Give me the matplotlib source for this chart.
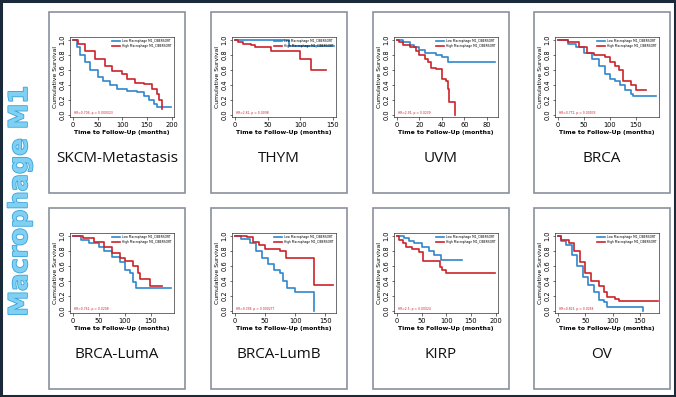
# KM survival panels for Macrophage M1 across tumour types
import matplotlib.pyplot as plt
import matplotlib.patheffects as pe
from matplotlib.patches import Rectangle

# panel names in reading order
names = ['SKCM-Metastasis', 'THYM', 'UVM', 'BRCA',
         'BRCA-LumA', 'BRCA-LumB', 'KIRP', 'OV']

hr_text = ['HR=0.706, p = 0.000023', 'HR=2.81, p = 0.0098', 'HR=2.91, p = 0.0239',
           'HR=0.772, p = 0.00033', 'HR=0.761, p = 0.0208', 'HR=0.338, p = 0.000277',
           'HR=2.5, p = 0.00024', 'HR=0.823, p = 0.0288']

x_ticks = [[0, 50, 100, 150, 200], [0, 50, 100, 150], [0, 20, 40, 60, 80], [0, 50, 100, 150],
           [0, 50, 100, 150], [0, 50, 100, 150], [0, 50, 100, 150, 200], [0, 50, 100, 150]]
x_max = [205, 155, 90, 195, 195, 168, 205, 185]

# low group (blue) : time, survival
low_t = [
    [0, 8, 15, 25, 35, 50, 60, 75, 90, 110, 130, 145, 155, 165, 170, 198],
    [0, 83, 152],
    [0, 5, 12, 15, 20, 25, 35, 40, 45, 87],
    [0, 20, 35, 50, 65, 80, 90, 100, 110, 120, 130, 140, 145, 190],
    [0, 15, 30, 50, 60, 75, 90, 100, 110, 115, 122, 190],
    [0, 10, 25, 35, 45, 55, 65, 75, 80, 87, 100, 132],
    [0, 15, 25, 35, 50, 65, 75, 90, 132],
    [0, 5, 15, 25, 35, 45, 55, 65, 75, 85, 90, 155],
]
low_s = [
    [1.0, 0.9, 0.8, 0.7, 0.6, 0.5, 0.45, 0.4, 0.35, 0.32, 0.3, 0.25, 0.2, 0.15, 0.11, 0.11],
    [1.0, 0.92, 0.92],
    [1.0, 0.97, 0.93, 0.9, 0.87, 0.83, 0.8, 0.77, 0.7, 0.7],
    [1.0, 0.95, 0.9, 0.83, 0.75, 0.65, 0.55, 0.48, 0.45, 0.4, 0.33, 0.28, 0.25, 0.25],
    [1.0, 0.95, 0.9, 0.85, 0.8, 0.72, 0.65, 0.55, 0.5, 0.38, 0.31, 0.31],
    [1.0, 0.96, 0.9, 0.8, 0.7, 0.62, 0.55, 0.5, 0.4, 0.3, 0.25, 0.0],
    [1.0, 0.97, 0.93, 0.9, 0.85, 0.8, 0.75, 0.68, 0.68],
    [1.0, 0.93, 0.88, 0.75, 0.6, 0.45, 0.35, 0.25, 0.15, 0.12, 0.05, 0.0],
]

# high group (red)
high_t = [
    [0, 10, 25, 45, 65, 80, 100, 110, 125, 145, 160, 170, 175, 180],
    [0, 5, 12, 25, 30, 55, 100, 117, 140],
    [0, 2, 5, 12, 17, 20, 25, 28, 30, 35, 40, 44, 45, 46, 52],
    [0, 20, 40, 55, 70, 90, 100, 110, 117, 125, 140, 150, 170],
    [0, 20, 40, 60, 75, 90, 100, 115, 125, 130, 148, 172],
    [0, 20, 30, 40, 50, 75, 85, 132, 163],
    [0, 5, 12, 18, 30, 45, 52, 87, 92, 100, 198],
    [0, 5, 20, 30, 40, 50, 60, 75, 85, 90, 105, 112, 183],
]
high_s = [
    [1.0, 0.95, 0.85, 0.75, 0.65, 0.58, 0.55, 0.48, 0.43, 0.41, 0.35, 0.28, 0.2, 0.08],
    [1.0, 0.97, 0.95, 0.93, 0.9, 0.85, 0.75, 0.6, 0.6],
    [1.0, 0.97, 0.93, 0.9, 0.85, 0.8, 0.75, 0.7, 0.62, 0.61, 0.48, 0.45, 0.35, 0.17, 0.0],
    [1.0, 0.97, 0.9, 0.82, 0.8, 0.77, 0.7, 0.65, 0.6, 0.45, 0.4, 0.33, 0.33],
    [1.0, 0.97, 0.92, 0.85, 0.77, 0.7, 0.66, 0.6, 0.5, 0.42, 0.33, 0.33],
    [1.0, 0.98, 0.92, 0.88, 0.82, 0.8, 0.7, 0.35, 0.35],
    [1.0, 0.95, 0.9, 0.85, 0.82, 0.78, 0.66, 0.58, 0.55, 0.51, 0.51],
    [1.0, 0.95, 0.9, 0.8, 0.65, 0.5, 0.4, 0.33, 0.25, 0.18, 0.16, 0.13, 0.13],
]

W, H = 676, 397
fig = plt.figure(figsize=(W / 100, H / 100), dpi=100)
fig.patch.set_facecolor('white')

def fx(px):
    return px / W

def fy(py):
    return 1 - py / H

# outer dark frame
fig.patches.append(Rectangle((0.0015, 0.0025), 0.997, 0.995, transform=fig.transFigure,
                             fill=False, edgecolor='#1b2a3a', linewidth=2.2))

col_left = [49, 211, 373, 534]
row_top = [12, 208]
box_w, box_h = 136, 181

for i, name in enumerate(names):
    r, c = divmod(i, 4)
    bx, by = col_left[c], row_top[r]
    fig.patches.append(Rectangle((fx(bx), fy(by + box_h)), box_w / W, box_h / H,
                                 transform=fig.transFigure, fill=False,
                                 edgecolor='#8a909c', linewidth=1.2))

    ax = fig.add_axes([fx(bx + 21), fy(by + 105), 104 / W, 80 / H])
    ax.step(low_t[i], low_s[i], where='post', color='#2f86cc', linewidth=1.2,
            label='Low Macrophage M1_CIBERSORT')
    ax.step(high_t[i], high_s[i], where='post', color='#cc2229', linewidth=1.2,
            label='High Macrophage M1_CIBERSORT')
    ax.set_xlim(-x_max[i] * 0.03, x_max[i])
    ax.set_ylim(-0.03, 1.04)
    ax.set_xticks(x_ticks[i])
    ax.set_yticks([0.0, 0.2, 0.4, 0.6, 0.8, 1.0])
    ax.set_yticklabels(['0.0', '0.2', '0.4', '0.6', '0.8', '1.0'], rotation=90, va='center')
    ax.tick_params(labelsize=4.8, length=1.8, width=0.4, pad=1.5)
    for sp in ax.spines.values():
        sp.set_linewidth(0.4)
    ax.set_xlabel('Time to Follow-Up (months)', fontsize=4.4, fontweight='bold', labelpad=1.5)
    ax.set_ylabel('Cumulative Survival', fontsize=4.4, labelpad=1)
    ax.legend(loc='upper right', fontsize=2.2, frameon=False, handlelength=2.5,
              borderpad=0.3, labelspacing=0.2)
    ax.text(0.04, 0.04, hr_text[i], transform=ax.transAxes, fontsize=2.2, color='#cc2229')

    fig.text(fx(bx + box_w / 2), fy(by + 146), name, ha='center', va='center',
             fontsize=11, family='Open Sans', color='#111111')

# vertical group label
fig.text(fx(20), fy(201), 'Macrophage M1', rotation=90, ha='center', va='center',
         fontsize=18.5, fontweight='bold', color='#7fd0f2',
         path_effects=[pe.withStroke(linewidth=1.2, foreground='#3aa3da')])

plt.savefig('out.png', dpi=100)
